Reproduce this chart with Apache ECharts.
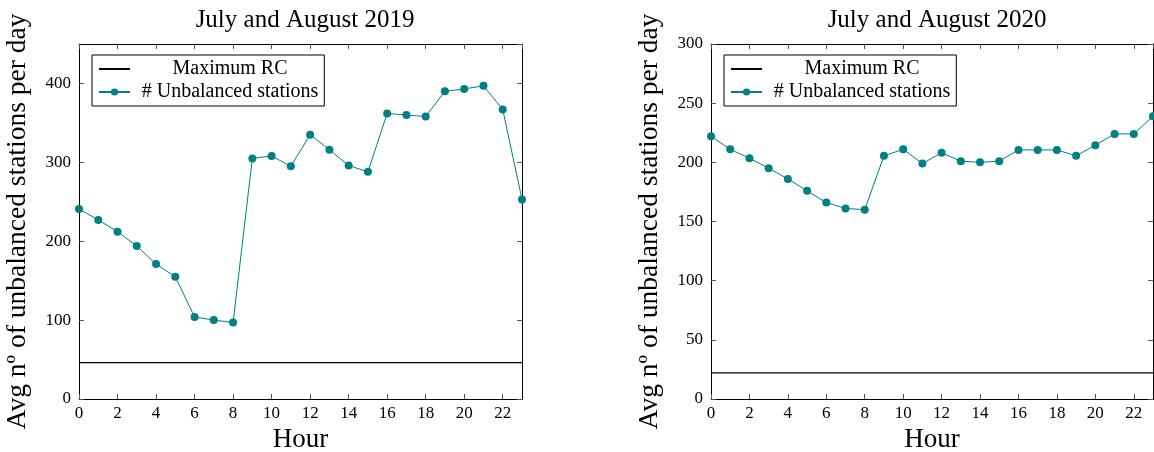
<!DOCTYPE html>
<html>
<head>
<meta charset="utf-8">
<script src="https://cdn.jsdelivr.net/npm/echarts@6/dist/echarts.min.js"></script>
<style>html,body{margin:0;padding:0;background:#fff}#c{width:1154px;height:452px}</style>
</head>
<body>
<div id="c"></div>
<script>
const hours = [0,1,2,3,4,5,6,7,8,9,10,11,12,13,14,15,16,17,18,19,20,21,22,23];
const unbalanced2019 = [241,227,212,194,171,155,104,100,97,305,308,295,335,316,296,288,362,360,358,390,393,397,367,253];
const unbalanced2020 = [222,211,203.5,195,186,176,166,161,160,205.5,211,199,208,201,200,201,210.5,210.5,210.5,205.5,214.5,224,224,239];
const maxRC2019 = 46;
const maxRC2020 = 22;
const titles = ['July and August 2019', 'July and August 2020'];
const seriesNames = ['Maximum RC', '# Unbalanced stations'];
const yName = 'Avg nº of unbalanced stations per day';
const xName = 'Hour';

const FONT = 'Liberation Serif';
const teal = '#008080';
const panels = [
  {left: 79, right: 632, center: 300, ymax: 450, yint: 100, showMax: false, data: unbalanced2019, rc: maxRC2019, legLeft: 92},
  {left: 711, right: 1, center: 932, ymax: 300, yint: 50, showMax: true, data: unbalanced2020, rc: maxRC2020, legLeft: 724}
];

const option = {
  animation: false,
  backgroundColor: '#fff',
  title: [], legend: [], grid: [], xAxis: [], yAxis: [], series: []
};

panels.forEach((p, i) => {
  option.title.push({
    text: titles[i], left: p.center, top: 3, textAlign: 'center',
    textStyle: {fontFamily: FONT, fontSize: 25, fontWeight: 'normal', color: '#000'}
  });
  option.grid.push({left: p.left, right: p.right, top: 44, bottom: 53, containLabel: false, outerBoundsMode: 'none'});
  const axisLine = {show: true, onZero: false, lineStyle: {color: '#000', width: 1}};
  const tick = {show: true, inside: true, length: 5, lineStyle: {color: '#555', width: 1}};
  option.xAxis.push({
    type: 'value', gridIndex: i, min: 0, max: 23, interval: 2, position: 'bottom',
    axisLine, axisTick: tick, splitLine: {show: false},
    axisLabel: {showMaxLabel: false, margin: 6, fontFamily: FONT, fontSize: 17, color: '#000'},
    name: xName, nameLocation: 'middle', nameGap: 25,
    nameTextStyle: {fontFamily: FONT, fontSize: 27, color: '#000'}
  });
  option.xAxis.push({
    type: 'value', gridIndex: i, min: 0, max: 23, interval: 2, position: 'top',
    axisLine, axisTick: tick, splitLine: {show: false}, axisLabel: {show: false}
  });
  option.yAxis.push({
    type: 'value', gridIndex: i, min: 0, max: p.ymax, interval: p.yint, position: 'left',
    axisLine, axisTick: tick, splitLine: {show: false},
    axisLabel: {showMaxLabel: p.showMax, margin: 8, fontFamily: FONT, fontSize: 17, color: '#000'},
    name: yName, nameLocation: 'middle', nameGap: 47,
    nameTextStyle: {fontFamily: FONT, fontSize: 27.5, color: '#000'}
  });
  option.yAxis.push({
    type: 'value', gridIndex: i, min: 0, max: p.ymax, interval: p.yint, position: 'right',
    axisLine, axisTick: tick, splitLine: {show: false}, axisLabel: {show: false}
  });
  option.series.push({
    name: seriesNames[0], type: 'line', xAxisIndex: i * 2, yAxisIndex: i * 2,
    data: [[hours[0], p.rc], [hours[hours.length - 1], p.rc]],
    symbol: 'none', lineStyle: {color: '#000', width: 1.3}, itemStyle: {color: '#000'}
  });
  option.series.push({
    name: seriesNames[1], type: 'line', xAxisIndex: i * 2, yAxisIndex: i * 2,
    data: hours.map((h, k) => [h, p.data[k]]),
    symbol: 'circle', symbolSize: 8, lineStyle: {color: teal, width: 1}, itemStyle: {color: teal}
  });
  option.legend.push({
    data: [
      {name: seriesNames[0], itemStyle: {opacity: 0}},
      {name: seriesNames[1]}
    ],
    orient: 'vertical', left: p.legLeft, top: 55,
    itemWidth: 31, itemHeight: 9, itemGap: 3,
    padding: [4, 6, 4, 6],
    borderColor: '#000', borderWidth: 1, borderRadius: 0, backgroundColor: '#fff',
    formatter: '{a|{name}}',
    textStyle: {fontFamily: FONT, fontSize: 20, color: '#000',
      rich: {a: {fontFamily: FONT, fontSize: 20, color: '#000', width: 190, align: 'center'}}},
    selectedMode: false
  });
});

const chart = echarts.init(document.getElementById('c'), null, {renderer: 'canvas'});
chart.setOption(option);
</script>
</body>
</html>
